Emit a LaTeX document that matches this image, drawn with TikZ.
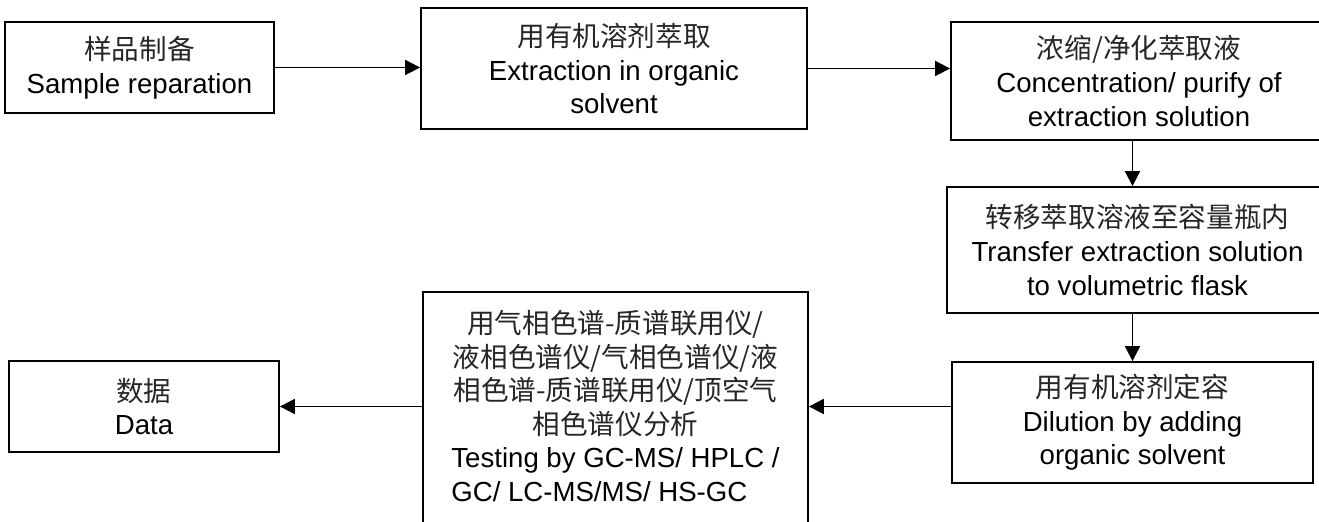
\documentclass[tikz,border=0pt]{standalone}
\usepackage{fontspec}
\setmainfont{Liberation Sans}
\newfontfamily\cjk{Noto Sans CJK SC}
\usetikzlibrary{arrows.meta}

\newcommand{\zhtext}[1]{{\cjk\color{black!85}#1}}

\begin{document}
\begin{tikzpicture}[
        x                       = 0.5pt,
        y                       = -0.5pt,
        box/.style              = {draw, line width=0.9pt, inner sep=0pt, align=center,
                                   font=\fontsize{13.8}{16.8}\selectfont},
        flow/.style             = {draw, line width=0.9pt, -{Triangle[length=7.5pt, width=7.5pt]}},
    ]
    \useasboundingbox (0,0) rectangle (1319,522);
    \clip (0,0) rectangle (1319,522);

    \node [box, minimum width=269pt/2, minimum height=91pt/2] (sample) at (139.5,67.5)
        {\zhtext{样品制备}\\Sample reparation};
    \node [box, minimum width=386pt/2, minimum height=121pt/2] (extract) at (614,68.5)
        {\zhtext{用有机溶剂萃取}\\Extraction in organic\\solvent};
    \node [box, minimum width=376pt/2, minimum height=118pt/2] (concen) at (1139,81)
        {\zhtext{浓缩/净化萃取液}\\Concentration/ purify of\\extraction solution};
    \node [box, minimum width=381pt/2, minimum height=126pt/2] (transfer) at (1137.5,250)
        {\zhtext{转移萃取溶液至容量瓶内}\\Transfer extraction solution\\to volumetric flask};
    \node [box, minimum width=361pt/2, minimum height=121pt/2] (dilute) at (1132.5,422.5)
        {\zhtext{用有机溶剂定容}\\Dilution by adding\\organic solvent};
    \node [box, minimum width=385pt/2, minimum height=238pt/2] (testing) at (615.5,411)
        {\zhtext{用气相色谱-质谱联用仪/}\\
         \zhtext{液相色谱仪/气相色谱仪/液}\\
         \zhtext{相色谱-质谱联用仪/顶空气}\\
         \zhtext{相色谱仪分析}\\
         \begin{tabular}[t]{@{}l@{}}Testing by GC-MS/ HPLC /\\GC/ LC-MS/MS/ HS-GC\end{tabular}};
    \node [box, minimum width=270pt/2, minimum height=91pt/2] (data) at (144,406.5)
        {\zhtext{数据}\\Data};

    \path [flow] (sample.east) -- (extract.west |- sample.east);
    \path [flow] (extract.east) -- (concen.west |- extract.east);
    \path [flow] (concen.south -| dilute) -- (transfer.north -| dilute);
    \path [flow] (transfer.south -| dilute) -- (dilute.north);
    \path [flow] (dilute.west |- data) -- (testing.east |- data);
    \path [flow] (testing.west |- data) -- (data.east);
\end{tikzpicture}
\end{document}
